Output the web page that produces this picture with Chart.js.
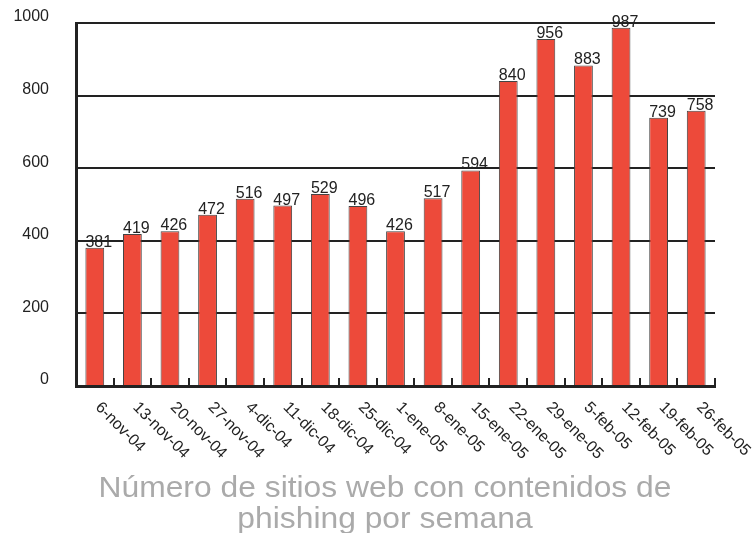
<!DOCTYPE html>
<html>
<head>
<meta charset="utf-8">
<script src="https://cdn.jsdelivr.net/npm/chart.js@4.4.1/dist/chart.umd.min.js"></script>
<style>
  html, body { margin: 0; padding: 0; background: #fff; }
  canvas { display: block; }
</style>
</head>
<body>
<canvas id="chart" width="755" height="533"></canvas>
<script>
// weekly counts of phishing sites
const weeks = [
  '6-nov-04', '13-nov-04', '20-nov-04', '27-nov-04', '4-dic-04', '11-dic-04',
  '18-dic-04', '25-dic-04', '1-ene-05', '8-ene-05', '15-ene-05', '22-ene-05',
  '29-ene-05', '5-feb-05', '12-feb-05', '19-feb-05', '26-feb-05'
];
const sites = [381, 419, 426, 472, 516, 497, 529, 496, 426, 517, 594, 840, 956, 883, 987, 739, 758];
const titleLines = ['Número de sitios web con contenidos de', 'phishing por semana'];
const yMin = 0;
const yMax = 1000;
const yStep = 200;

const FONT = 'Arial, "Liberation Sans", sans-serif';
const INK = '#222';

// value labels, slanted dates and the grey caption under the chart
const labelsPlugin = {
  id: 'labels',
  afterDraw(chart) {
    const { ctx, chartArea } = chart;
    const meta = chart.getDatasetMeta(0);
    const x = chart.scales.x;

    ctx.save();
    ctx.fillStyle = INK;
    ctx.font = `16px ${FONT}`;
    ctx.textAlign = 'left';
    ctx.textBaseline = 'alphabetic';
    meta.data.forEach((bar, i) => {
      ctx.fillText(String(sites[i]), bar.x - bar.width / 2, bar.y - 1);
    });

    ctx.textBaseline = 'middle';
    weeks.forEach((w, i) => {
      ctx.save();
      ctx.translate(x.getPixelForValue(i) + 3, chartArea.bottom + 19);
      ctx.rotate(Math.PI / 4);
      ctx.fillText(w, 0, 0);
      ctx.restore();
    });

    ctx.fillStyle = '#aaaaaa';
    ctx.font = `29px ${FONT}`;
    ctx.textAlign = 'center';
    ctx.textBaseline = 'alphabetic';
    const sx = 573 / ctx.measureText(titleLines[0]).width;
    titleLines.forEach((line, i) => {
      ctx.save();
      ctx.translate(385, 497 + i * 31);
      ctx.scale(sx, 1);
      ctx.fillText(line, 0, 0);
      ctx.restore();
    });
    ctx.restore();
  }
};

new Chart(document.getElementById('chart'), {
  type: 'bar',
  data: {
    labels: weeks,
    datasets: [{
      data: sites,
      backgroundColor: '#ED4A3A',
      borderColor: '#444',
      borderWidth: 1,
      barPercentage: 0.5,
      categoryPercentage: 1
    }]
  },
  options: {
    responsive: false,
    animation: false,
    layout: { padding: { left: 0, right: 40, top: 23, bottom: 137 } },
    plugins: {
      legend: { display: false },
      tooltip: { enabled: false },
      title: { display: false }
    },
    scales: {
      x: {
        afterFit: (scale) => { scale.height = 10; },
        ticks: { display: false },
        grid: {
          offset: true,
          drawOnChartArea: false,
          drawTicks: true,
          tickLength: -8,
          color: INK,
          lineWidth: 2
        },
        border: { display: true, color: INK, width: 3 }
      },
      y: {
        min: yMin,
        max: yMax,
        afterFit: (scale) => {
          scale.width = 76;
          scale.paddingTop = 0;
          scale.paddingBottom = 0;
        },
        ticks: {
          stepSize: yStep,
          color: INK,
          padding: 27,
          labelOffset: -6,
          font: { family: FONT, size: 16 },
          callback: (v) => String(v)
        },
        grid: { color: INK, lineWidth: 2, drawTicks: false },
        border: { display: true, color: INK, width: 3 }
      }
    }
  },
  plugins: [labelsPlugin]
});
</script>
</body>
</html>
